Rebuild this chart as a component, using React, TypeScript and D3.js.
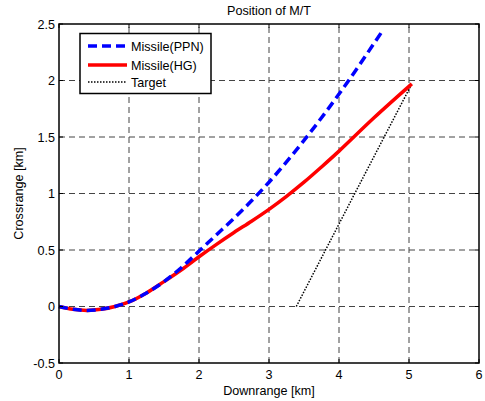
import React, { useRef, useEffect } from 'react';
import * as d3 from 'd3';

// (km)
const ppnX = [0, 0.2, 0.4, 0.6, 0.8, 1, 1.25, 1.5, 1.75, 2, 2.25, 2.5, 2.75, 3, 3.25, 3.5, 3.75, 4, 4.25, 4.6];
const ppnY = [0, -0.025, -0.035, -0.025, 0, 0.04, 0.12, 0.22, 0.345, 0.49, 0.635, 0.78, 0.935, 1.1, 1.28, 1.47, 1.67, 1.88, 2.1, 2.42];
const hgX = [0, 0.2, 0.4, 0.6, 0.8, 1, 1.25, 1.5, 1.75, 2, 2.25, 2.5, 2.75, 3, 3.25, 3.5, 3.75, 4, 4.5, 5.04];
const hgY = [0, -0.025, -0.035, -0.025, 0, 0.04, 0.12, 0.22, 0.325, 0.44, 0.55, 0.655, 0.755, 0.86, 0.975, 1.1, 1.235, 1.375, 1.67, 1.97];
const tgtX = [3.39, 4.2, 5.04];
const tgtY = [0, 0.97, 1.97];

const xTicks = [0, 1, 2, 3, 4, 5, 6];
const yTicks = [-0.5, 0, 0.5, 1, 1.5, 2, 2.5];

const W = 485, H = 401;
const margin = { left: 59, right: 6, top: 24, bottom: 38 };
const font = 'Arial, "Liberation Sans", Helvetica, sans-serif';
const fs = 12.6;

const App = () => {
  const svgRef = useRef<SVGSVGElement>(null);

  useEffect(() => {
    const svg = d3.select(svgRef.current);
    svg.selectAll('*').remove();

    const x = d3.scaleLinear().domain([0, 6]).range([margin.left, W - margin.right]);
    const y = d3.scaleLinear().domain([-0.5, 2.5]).range([H - margin.bottom, margin.top]);
    const [x0, x1] = x.range();
    const [y0, y1] = y.range();

    svg.append('rect').attr('width', W).attr('height', H).attr('fill', '#fff');

    // grid
    const grid = svg.append('g').attr('stroke', '#444').attr('stroke-width', 1).attr('stroke-dasharray', '6,4');
    grid.selectAll('.gx').data(xTicks.slice(1, -1)).enter().append('line')
      .attr('x1', d => x(d)).attr('x2', d => x(d)).attr('y1', y0).attr('y2', y1);
    grid.selectAll('.gy').data(yTicks.slice(1, -1)).enter().append('line')
      .attr('y1', d => y(d)).attr('y2', d => y(d)).attr('x1', x0).attr('x2', x1);

    const line = d3.line<[number, number]>().x(d => x(d[0])).y(d => y(d[1])).curve(d3.curveCatmullRom);
    const lin = d3.line<[number, number]>().x(d => x(d[0])).y(d => y(d[1]));

    svg.append('path').datum(tgtX.map((v, i) => [v, tgtY[i]] as [number, number]))
      .attr('d', lin).attr('fill', 'none').attr('stroke', '#000').attr('stroke-width', 1.5).attr('stroke-dasharray', '1.5,1.5');
    svg.append('path').datum(hgX.map((v, i) => [v, hgY[i]] as [number, number]))
      .attr('d', line).attr('fill', 'none').attr('stroke', '#ff0000').attr('stroke-width', 3.5);
    svg.append('path').datum(ppnX.map((v, i) => [v, ppnY[i]] as [number, number]))
      .attr('d', line).attr('fill', 'none').attr('stroke', '#0000ff').attr('stroke-width', 3.5).attr('stroke-dasharray', '9,5');

    // axes box
    svg.append('rect').attr('x', x0).attr('y', y1).attr('width', x1 - x0).attr('height', y0 - y1)
      .attr('fill', 'none').attr('stroke', '#000').attr('stroke-width', 1.5);

    // ticks
    const tk = svg.append('g').attr('stroke', '#000').attr('stroke-width', 1);
    xTicks.forEach(t => {
      tk.append('line').attr('x1', x(t)).attr('x2', x(t)).attr('y1', y0).attr('y2', y0 - 4);
      tk.append('line').attr('x1', x(t)).attr('x2', x(t)).attr('y1', y1).attr('y2', y1 + 4);
    });
    yTicks.forEach(t => {
      tk.append('line').attr('y1', y(t)).attr('y2', y(t)).attr('x1', x0).attr('x2', x0 + 4);
      tk.append('line').attr('y1', y(t)).attr('y2', y(t)).attr('x1', x1).attr('x2', x1 - 4);
    });

    const txt = svg.append('g').attr('font-family', font).attr('font-size', fs).attr('fill', '#000');
    txt.selectAll('.xl').data(xTicks).enter().append('text')
      .attr('x', d => x(d)).attr('y', y0 + 16).attr('text-anchor', 'middle').text(d => String(d));
    txt.selectAll('.yl').data(yTicks).enter().append('text')
      .attr('x', x0 - 4).attr('y', d => y(d) + 4.5).attr('text-anchor', 'end').text(d => String(d));
    txt.append('text').attr('x', (x0 + x1) / 2).attr('y', y0 + 32).attr('text-anchor', 'middle').text('Downrange [km]');
    txt.append('text').attr('transform', `translate(23,${(y0 + y1) / 2}) rotate(-90)`).attr('text-anchor', 'middle').text('Crossrange [km]');
    txt.append('text').attr('x', (x0 + x1) / 2).attr('y', 15).attr('text-anchor', 'middle').text('Position of M/T');

    // legend
    const lg = svg.append('g');
    lg.append('rect').attr('x', 80).attr('y', 33.5).attr('width', 131).attr('height', 60)
      .attr('fill', '#fff').attr('stroke', '#000').attr('stroke-width', 1.5);
    const items = [
      { name: 'Missile(PPN)', color: '#0000ff', w: 3.5, dash: '9,5' },
      { name: 'Missile(HG)', color: '#ff0000', w: 3.5, dash: null },
      { name: 'Target', color: '#000', w: 1.5, dash: '1.5,1.5' },
    ];
    const rowY = [46, 65, 82];
    items.forEach((it, i) => {
      lg.append('line').attr('x1', 88).attr('x2', 127).attr('y1', rowY[i]).attr('y2', rowY[i])
        .attr('stroke', it.color).attr('stroke-width', it.w).attr('stroke-dasharray', it.dash);
      lg.append('text').attr('x', 131).attr('y', rowY[i] + 4.5).attr('font-family', font).attr('font-size', fs).text(it.name);
    });
  }, []);

  return (
    <svg ref={svgRef} width={W} height={H} style={{ position: 'absolute', left: 0, top: 0 }} />
  );
};

export default App;
